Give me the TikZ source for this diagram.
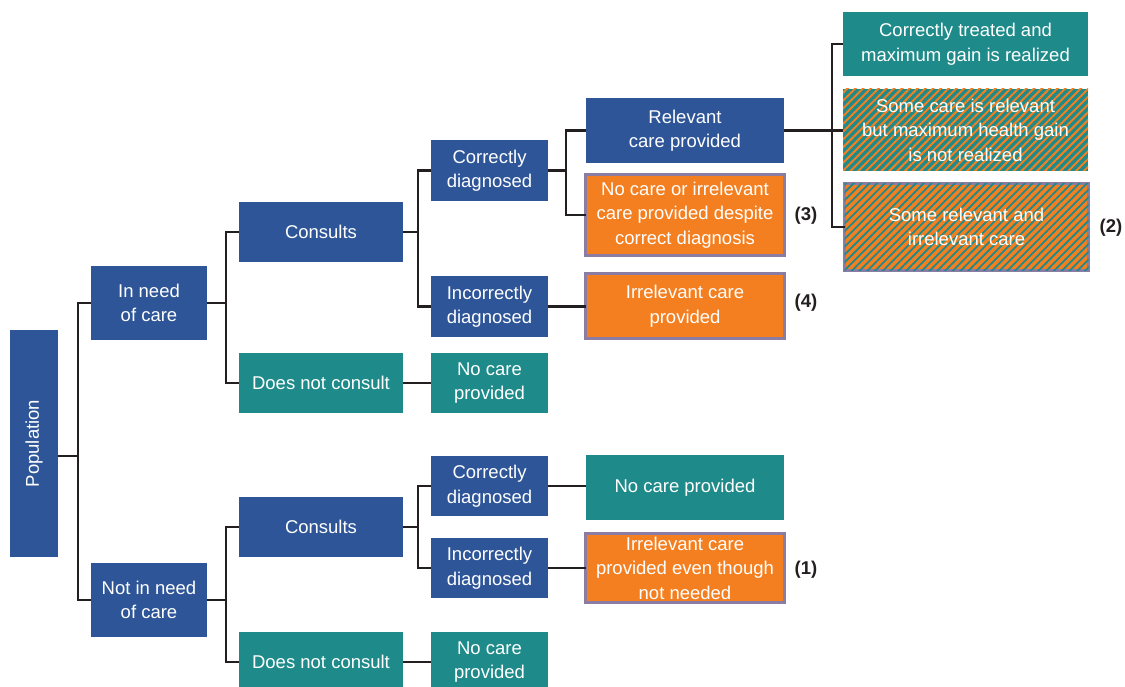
\documentclass[tikz,border=0pt]{standalone}
\usepackage{fontspec}
\setmainfont{Liberation Sans}
\usetikzlibrary{patterns.meta}
\definecolor{cblue}{HTML}{2E5597}
\definecolor{cteal}{HTML}{1E8B8A}
\definecolor{corange}{HTML}{F47F20}
\definecolor{cpurple}{HTML}{8B7CA3}
\definecolor{cline}{HTML}{231F20}
\begin{document}
\begin{tikzpicture}[x=1pt,y=-1pt,
  box/.style={inner sep=0pt, outer sep=0pt, text=white, align=center,
    font=\fontsize{18.5}{24.5}\selectfont},
  bluebox/.style={box, fill=cblue},
  tealbox/.style={box, fill=cteal},
  orangebox/.style={box, fill=corange, draw=cpurple, line width=3pt},
  hatchteal/.style={box, fill=cteal,
    postaction={pattern={Lines[angle=45,distance=5.5pt,line width=2pt]}, pattern color=corange}},
  hatchorange/.style={box, fill=corange, draw=cpurple, line width=3pt,
    postaction={pattern={Lines[angle=45,distance=5.5pt,line width=1.8pt]}, pattern color=cteal}},
  conn/.style={draw=cline, line width=2.5pt},
  tag/.style={font=\fontsize{18.5}{22}\selectfont\bfseries, text=cline, inner sep=0pt}
]
\useasboundingbox (0,0) rectangle (1125,687);

% level 0
\node[bluebox, rotate=90, minimum width=227, minimum height=48] (pop) at (34,443.5) {Population};
% level 1
\node[bluebox, minimum width=116, minimum height=74] (need) at (149,303) {In need\\of care};
\node[bluebox, minimum width=116, minimum height=74] (notneed) at (149,600) {Not in need\\of care};
% level 2
\node[bluebox, minimum width=164, minimum height=60] (cons1) at (321,232) {Consults};
\node[tealbox, minimum width=164, minimum height=60] (dnc1) at (321,383) {Does not consult};
\node[bluebox, minimum width=164, minimum height=60] (cons2) at (321,527) {Consults};
\node[tealbox, minimum width=164, minimum height=60] (dnc2) at (321,662) {Does not consult};
% level 3
\node[bluebox, minimum width=117, minimum height=61] (cd1) at (489.5,170.5) {Correctly\\diagnosed};
\node[bluebox, minimum width=117, minimum height=61] (icd1) at (489.5,306.5) {Incorrectly\\diagnosed};
\node[tealbox, minimum width=117, minimum height=60] (nc1) at (489.5,383) {No care\\provided};
\node[bluebox, minimum width=117, minimum height=60] (cd2) at (489.5,486) {Correctly\\diagnosed};
\node[bluebox, minimum width=117, minimum height=60] (icd2) at (489.5,568) {Incorrectly\\diagnosed};
\node[tealbox, minimum width=117, minimum height=60] (nc2) at (489.5,662) {No care\\provided};
% level 4
\node[bluebox, minimum width=198, minimum height=65] (rel) at (685,130.5) {Relevant\\care provided};
\node[orangebox, minimum width=199, minimum height=81] (nci) at (685,215) {No care or irrelevant\\care provided despite\\correct diagnosis};
\node[orangebox, minimum width=199, minimum height=65] (irr4) at (685,306) {Irrelevant care\\provided};
\node[tealbox, minimum width=198, minimum height=65] (nc3) at (685,487.5) {No care provided};
\node[orangebox, minimum width=199, minimum height=69] (irr1) at (685,568) {Irrelevant care\\provided even though\\not needed};
% level 5
\node[tealbox, minimum width=245, minimum height=64] (ct) at (965.5,44) {Correctly treated and\\maximum gain is realized};
\node[hatchteal, minimum width=245, minimum height=82] (some) at (965.5,130) {Some care is relevant\\but maximum health gain\\is not realized};
\node[hatchorange, minimum width=244, minimum height=87] (sri) at (966.5,227) {Some relevant and\\irrelevant care};

% tags
\node[tag] (t3) at (806,216) {(3)};
\node[tag] (t4) at (806,303) {(4)};
\node[tag] (t1) at (806,570) {(1)};
\node[tag] (t2) at (1111,228) {(2)};

% bus coordinates
\coordinate (b0) at (78,0);
\coordinate (b1) at (226,0);
\coordinate (b2) at (418,0);
\coordinate (b3) at (566,0);
\coordinate (b4) at (832,0);
\coordinate (popout) at ([yshift=-12.5pt]pop.south);

% connectors
\draw[conn] (popout) -- (b0 |- popout);
\draw[conn] (need.west) -| (b0 |- popout) |- (notneed.west);

\draw[conn] (need.east) -- (b1 |- need.east);
\draw[conn] (cons1.west) -| (b1 |- need.east) |- (dnc1.west);
\draw[conn] (notneed.east) -- (b1 |- notneed.east);
\draw[conn] (cons2.west) -| (b1 |- notneed.east) |- (dnc2.west);

\draw[conn] (cons1.east) -- (b2 |- cons1.east);
\draw[conn] (cd1.west) -| (b2 |- cons1.east) |- (icd1.west);
\draw[conn] (cons2.east) -- (b2 |- cons2.east);
\draw[conn] (cd2.west) -| (b2 |- cons2.east) |- (icd2.west);

\draw[conn] (dnc1.east) -- (dnc1.east -| nc1.west);
\draw[conn] (dnc2.east) -- (dnc2.east -| nc2.west);
\draw[conn] (icd1.east) -- (icd1.east -| irr4.west);
\draw[conn] (cd2.east) -- (cd2.east -| nc3.west);
\draw[conn] (icd2.east) -- (icd2.east -| irr1.west);

\draw[conn] (cd1.east) -- (b3 |- cd1.east);
\draw[conn] (rel.west) -| (b3 |- cd1.east) |- (nci.west);

\draw[conn] (rel.east) -- (rel.east -| some.west);
\draw[conn] (ct.west) -| (b4 |- rel.east) |- (sri.west);
\end{tikzpicture}
\end{document}
